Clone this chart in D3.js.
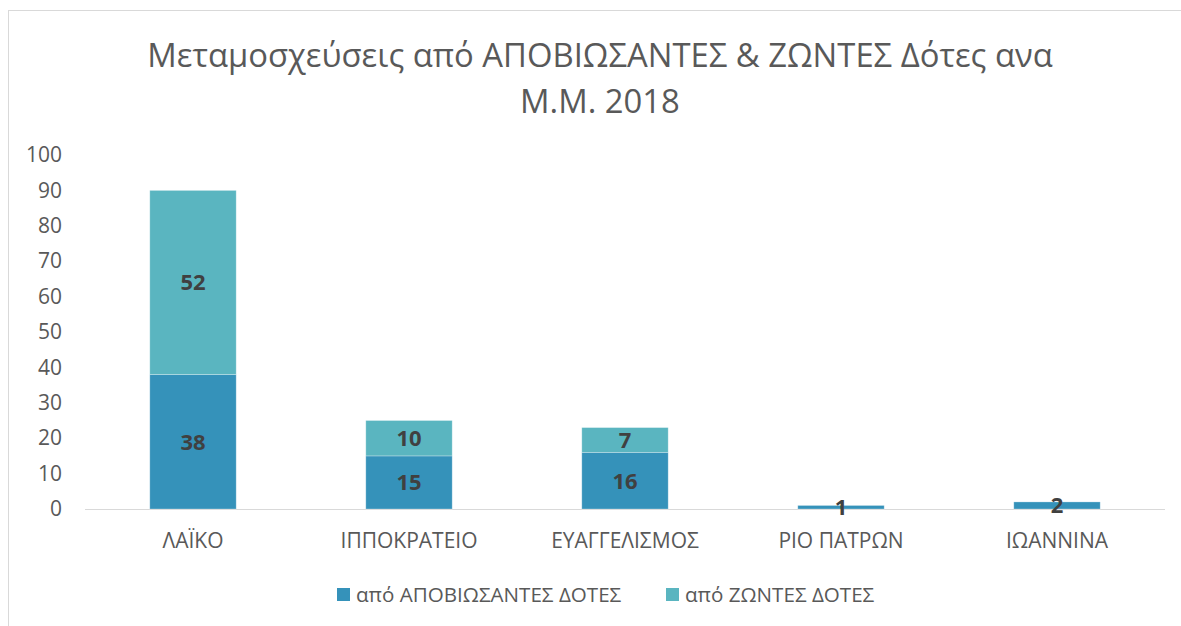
<!DOCTYPE html>
<meta charset="utf-8">
<style>
body { margin: 0; background: #fff; }
text { font-family: "Open Sans", sans-serif; fill: #595959; }
.axis path, .axis line { display: none; }
.axis--y text { font-size: 21px; }
.axis--x text { font-size: 21px; }
.label { font-weight: bold; font-size: 22px; fill: #404040; }
.title { font-size: 32.8px; }
.legend text { font-size: 20.6px; }
</style>
<svg width="1181" height="626"></svg>
<script src="https://d3js.org/d3.v7.min.js"></script>
<script>

var categories = ["ΛΑΪΚΟ", "ΙΠΠΟΚΡΑΤΕΙΟ", "ΕΥΑΓΓΕΛΙΣΜΟΣ", "ΡΙΟ ΠΑΤΡΩΝ", "ΙΩΑΝΝΙΝΑ"];
var deceased = [38, 15, 16, 1, 2];
var living = [52, 10, 7, 0, 0];
var seriesNames = ["από ΑΠΟΒΙΩΣΑΝΤΕΣ ΔΟΤΕΣ", "από ΖΩΝΤΕΣ ΔΟΤΕΣ"];
var colors = ["#3592BA", "#5AB5C0"];
var yTicks = [0, 10, 20, 30, 40, 50, 60, 70, 80, 90, 100];
var titleLines = ["Μεταμοσχεύσεις από ΑΠΟΒΙΩΣΑΝΤΕΣ & ΖΩΝΤΕΣ Δότες ανα", "Μ.Μ. 2018"];

var svg = d3.select("svg"),
    margin = {top: 155, right: 16, bottom: 117, left: 85},
    width = +svg.attr("width") - margin.left - margin.right,
    height = +svg.attr("height") - margin.top - margin.bottom;

// chart frame
svg.append("rect")
    .attr("x", 8.5).attr("y", 10.5)
    .attr("width", 1300).attr("height", 800)
    .attr("fill", "none")
    .attr("stroke", "#d9d9d9");

svg.append("text")
    .attr("class", "title")
    .attr("text-anchor", "middle")
    .selectAll("tspan")
    .data(titleLines)
  .enter().append("tspan")
    .attr("x", 600)
    .attr("y", function(d, i) { return 67 + i * 46; })
    .text(function(d) { return d; });

var x = d3.scaleBand().domain(categories).range([0, width]).paddingInner(0.6).paddingOuter(0.3);
var y = d3.scaleLinear().domain([0, 100]).range([height, 0]);

var g = svg.append("g")
    .attr("transform", "translate(" + margin.left + "," + margin.top + ")");

var data = categories.map(function(c, i) {
  return {cat: c, v0: deceased[i], v1: living[i]};
});
var stack = d3.stack().keys(["v0", "v1"])(data);

g.append("g")
    .attr("class", "axis axis--y")
    .call(d3.axisLeft(y).tickValues(yTicks).tickSize(0).tickPadding(23));

g.append("g")
    .attr("class", "axis axis--x")
    .attr("transform", "translate(0," + height + ")")
    .call(d3.axisBottom(x).tickSize(0).tickPadding(24));

g.append("line")
    .attr("x1", 0).attr("x2", width)
    .attr("y1", height + 0.5).attr("y2", height + 0.5)
    .attr("stroke", "#d9d9d9")
    .attr("stroke-width", 1.2);

var layers = g.selectAll(".layer")
    .data(stack)
  .enter().append("g")
    .attr("class", "layer")
    .attr("fill", function(d, i) { return colors[i]; });

layers.selectAll("rect")
    .data(function(d) { return d; })
  .enter().append("rect")
    .attr("x", function(d) { return x(d.data.cat); })
    .attr("y", function(d) { return y(d[1]); })
    .attr("width", x.bandwidth())
    .attr("height", function(d) { return y(d[0]) - y(d[1]); })
    .attr("stroke", "#ffffff")
    .attr("stroke-opacity", 0.35)
    .attr("stroke-width", 0.8);

layers.selectAll(".label")
    .data(function(d) { return d.filter(function(p) { return p[1] - p[0] > 0; }); })
  .enter().append("text")
    .attr("class", "label")
    .attr("text-anchor", "middle")
    .attr("dy", "0.36em")
    .attr("x", function(d) { return x(d.data.cat) + x.bandwidth() / 2; })
    .attr("y", function(d) { return (y(d[0]) + y(d[1])) / 2; })
    .text(function(d) { return d[1] - d[0]; });

var legend = svg.append("g").attr("class", "legend");
var legX = [337, 666];
seriesNames.forEach(function(name, i) {
  legend.append("rect")
      .attr("x", legX[i]).attr("y", 588)
      .attr("width", 13).attr("height", 13)
      .attr("fill", colors[i]);
  legend.append("text")
      .attr("x", legX[i] + 19).attr("y", 602)
      .text(name);
});

</script>
